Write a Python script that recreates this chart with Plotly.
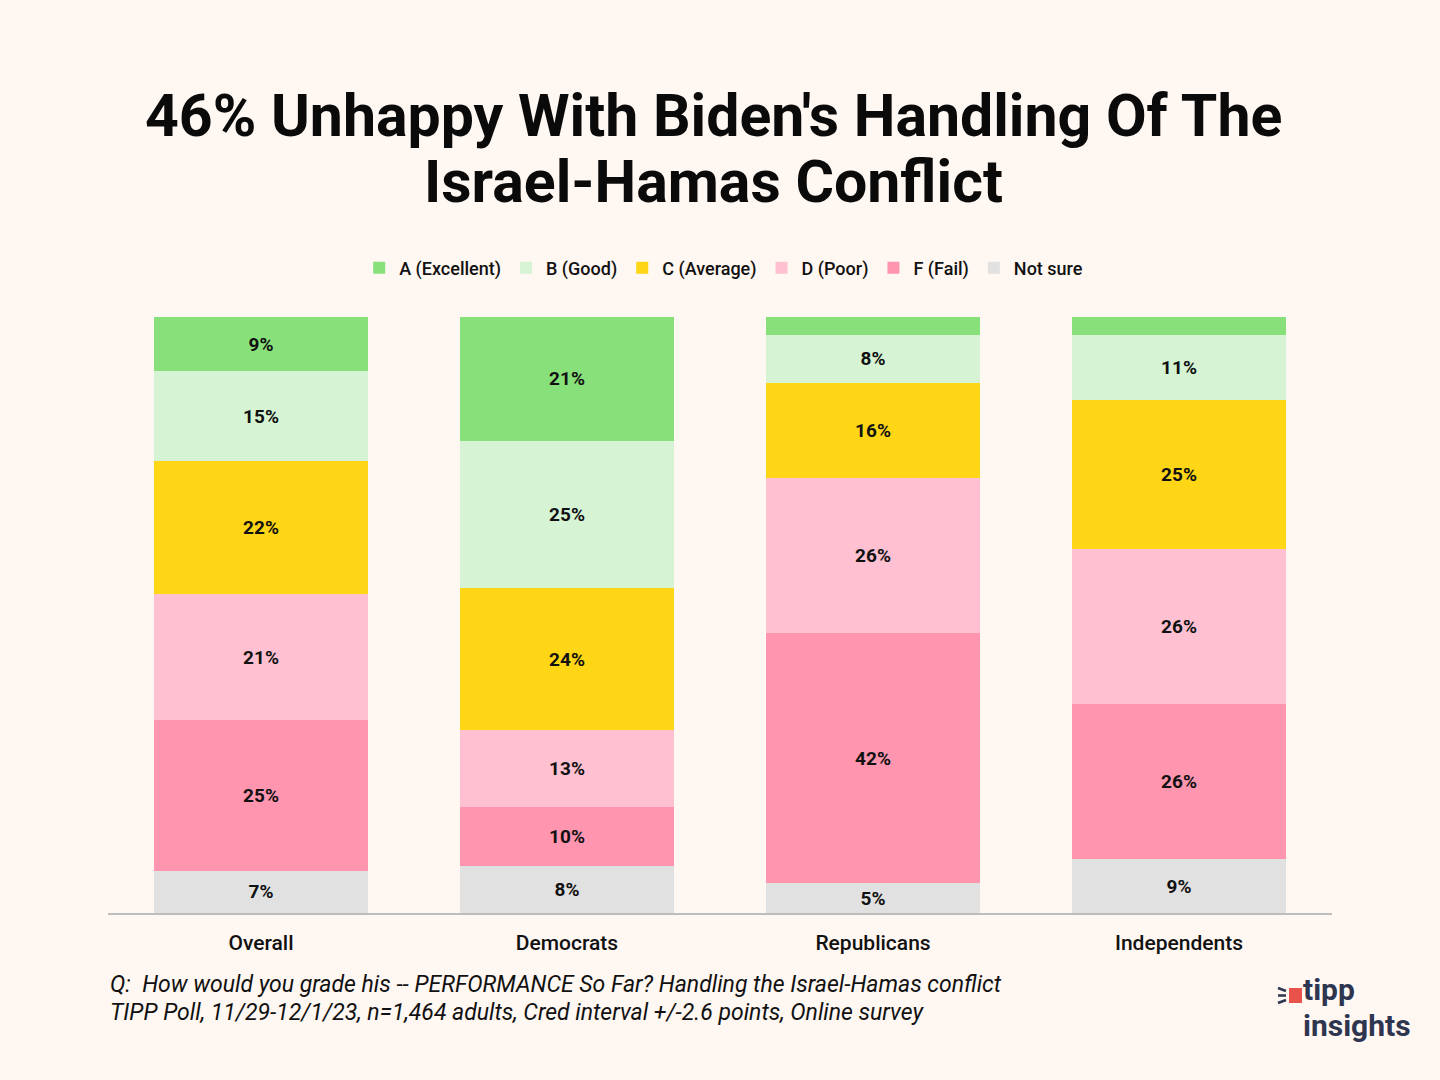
import plotly.graph_objects as go

groups = ["Overall", "Democrats", "Republicans", "Independents"]
grades = ["A (Excellent)", "B (Good)", "C (Average)", "D (Poor)", "F (Fail)", "Not sure"]

# share of respondents per grade, bottom segment is "Not sure"
a_excellent = [9, 21, 3, 3]
b_good = [15, 25, 8, 11]
c_average = [22, 24, 16, 25]
d_poor = [21, 13, 26, 26]
f_fail = [25, 10, 42, 26]
not_sure = [7, 8, 5, 9]

# labels shown on the bars ("" = segment too thin to label)
a_labels = ["9%", "21%", "", ""]

colors = {
    "A (Excellent)": "#88E07A",
    "B (Good)": "#D6F4D4",
    "C (Average)": "#FFD615",
    "D (Poor)": "#FFC1D1",
    "F (Fail)": "#FF95AF",
    "Not sure": "#E1E1E1",
}

values = {
    "A (Excellent)": a_excellent,
    "B (Good)": b_good,
    "C (Average)": c_average,
    "D (Poor)": d_poor,
    "F (Fail)": f_fail,
    "Not sure": not_sure,
}

title_lines = ["46% Unhappy With Biden's Handling Of The", "Israel-Hamas Conflict"]
note_lines = [
    "Q:  How would you grade his -- PERFORMANCE So Far? Handling the Israel-Hamas conflict",
    "TIPP Poll, 11/29-12/1/23, n=1,464 adults, Cred interval +/-2.6 points, Online survey",
]

fig = go.Figure()

# stack from the bottom: Not sure first, A on top
for g in reversed(grades):
    vals = values[g]
    if g == "A (Excellent)":
        txt = a_labels
    else:
        txt = [f"{v}%" for v in vals]
    fig.add_trace(go.Bar(
        x=groups,
        y=vals,
        name=g,
        marker=dict(color=colors[g], line=dict(width=0)),
        text=txt,
        textposition="inside",
        insidetextanchor="middle",
        textangle=0,
        textfont=dict(family="Roboto", size=19, color="#111111", weight="bold"),
        hoverinfo="skip",
    ))

fig.update_layout(
    width=1440,
    height=1080,
    barmode="stack",
    barnorm="percent",
    bargap=0.3,
    paper_bgcolor="#FFF7F2",
    plot_bgcolor="#FFF7F2",
    margin=dict(l=108, r=108, t=317, b=167),
    font=dict(family="Roboto", color="#111111"),
    legend=dict(
        orientation="h",
        traceorder="reversed",
        x=0.503, xanchor="center",
        y=1.082, yanchor="middle",
        font=dict(family="Roboto", size=18, color="#111111", weight=500),
        itemwidth=30,
        bgcolor="rgba(0,0,0,0)",
    ),
    xaxis=dict(
        showline=True,
        linecolor="#BDBDBD",
        linewidth=2,
        ticks="",
        ticklabelstandoff=10,
        tickfont=dict(family="Roboto", size=21, color="#111111", weight=500),
        showgrid=False,
    ),
    yaxis=dict(
        range=[0, 100],
        visible=False,
        showgrid=False,
    ),
    showlegend=True,
)

# paper coords: plot area spans x 108..1332 px, y 317..913 px
def px_x(p):
    return (p - 108) / 1224

def px_y(p):
    return (913 - p) / 596

# title, two lines
for line, yc in zip(title_lines, [115, 182]):
    fig.add_annotation(
        xref="paper", yref="paper", x=px_x(713), y=px_y(yc),
        xanchor="center", yanchor="middle", text=f"<b>{line}</b>",
        showarrow=False,
        font=dict(family="Roboto", size=59, color="#0A0A0A"),
    )

# footnote
for line, yc in zip(note_lines, [984, 1012]):
    fig.add_annotation(
        xref="paper", yref="paper", x=px_x(109), y=px_y(yc),
        xanchor="left", yanchor="middle", text=f"<i>{line}</i>",
        align="left", showarrow=False, borderpad=0,
        font=dict(family="Roboto", size=23, color="#111111"),
    )

# tipp insights logo
fig.add_shape(type="rect", xref="paper", yref="paper",
              x0=px_x(1289), x1=px_x(1302), y0=px_y(988), y1=px_y(1003),
              fillcolor="#E8524A", line=dict(width=0))
for y0, y1 in [(988, 991), (995.5, 995.5), (1003, 1000)]:
    fig.add_shape(type="line", xref="paper", yref="paper",
                  x0=px_x(1278), x1=px_x(1286), y0=px_y(y0), y1=px_y(y1),
                  line=dict(color="#2E3550", width=2.5))
fig.add_annotation(
    xref="paper", yref="paper", x=px_x(1302), y=px_y(1008),
    xanchor="left", yanchor="bottom", text="<b>tipp</b>",
    showarrow=False, borderpad=0,
    font=dict(family="Roboto", size=30, color="#2E3550"),
)
fig.add_annotation(
    xref="paper", yref="paper", x=px_x(1302), y=px_y(1007),
    xanchor="left", yanchor="top", text="<b>insights</b>",
    showarrow=False, borderpad=0,
    font=dict(family="Roboto", size=30, color="#2E3550"),
)

fig.write_html(
    "out.html",
    config={"displayModeBar": False},
    post_script="document.body.style.margin='0';document.body.style.background='#FFF7F2';",
)
